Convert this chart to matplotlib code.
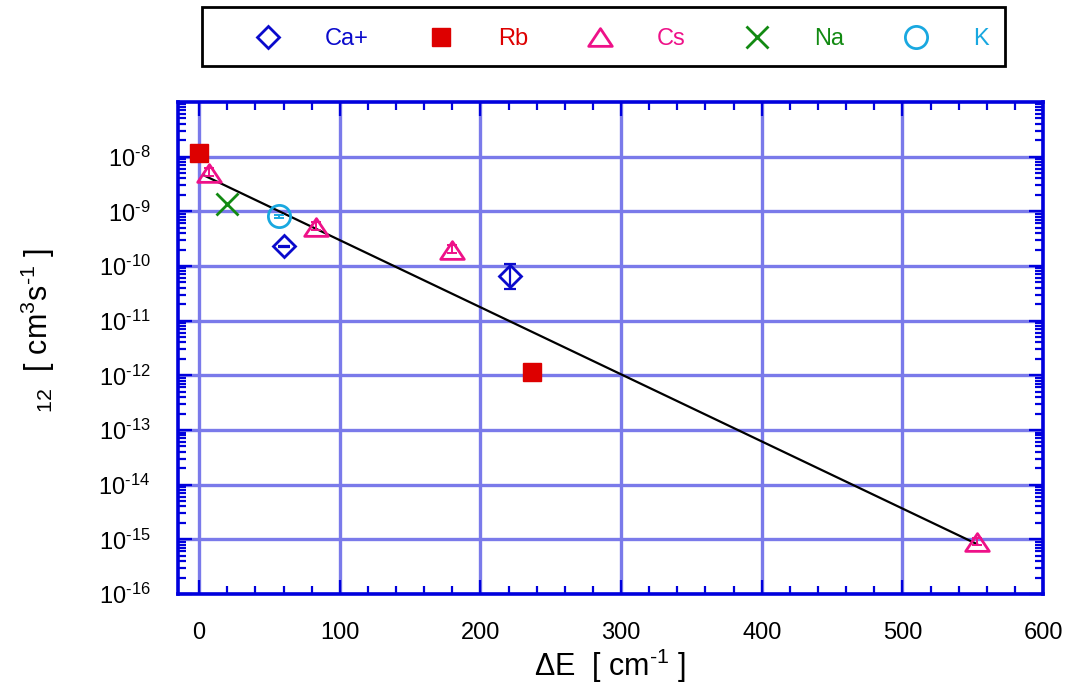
import numpy as np
import matplotlib
matplotlib.use('Agg')
from matplotlib import pyplot as plt
from matplotlib.path import Path
from matplotlib.patches import Rectangle
from matplotlib.ticker import LogLocator, MultipleLocator, NullFormatter, FuncFormatter

plt.rcParams['font.family'] = ['Liberation Sans', 'DejaVu Sans']
plt.rcParams['mathtext.fontset'] = 'custom'
plt.rcParams['mathtext.rm'] = 'Liberation Sans'
plt.rcParams['mathtext.it'] = 'Liberation Sans:italic'
plt.rcParams['mathtext.bf'] = 'Liberation Sans:bold'
plt.rcParams['axes.unicode_minus'] = False

# Data (x = Delta E in cm^-1, y = rate in cm^3 s^-1)
ca_x = [60, 221]
ca_y = [2.3e-10, 6.5e-11]
ca_lo = [0.05e-10, 2.7e-11]
ca_hi = [0.05e-10, 4.4e-11]

rb_x = [0, 237]
rb_y = [1.17e-8, 1.17e-12]

cs_x = [7, 83, 180, 553]
cs_y = [5.1e-9, 5.1e-10, 2.0e-10, 8.8e-16]
cs_lo = [0.6e-9, 0.6e-10, 0.24e-10, 1.0e-16]
cs_hi = [1.2e-9, 1.2e-10, 0.46e-10, 2.0e-16]

na_x = [20]
na_y = [1.34e-9]

k_x = [57]
k_y = [8.3e-10]
k_lo = [0.6e-10]
k_hi = [0.3e-10]

fit_x = [3, 553]
fit_y = [4.6e-9, 8.2e-16]

species = ['Ca+', 'Rb', 'Cs', 'Na', 'K']
colors = ['#0a0acc', '#dd0000', '#ee1188', '#128a12', '#19a8e0']

# wide triangle like the original
tri = Path([(-1, -0.75), (1, -0.75), (0, 0.75), (-1, -0.75)], closed=True)


def dec_label(v, pos):
    e = int(np.round(np.log10(v)))
    if e < 0:
        return r'10$^{\text{-}%d}$' % (-e)
    return r'10$^{%d}$' % e


fig = plt.figure(figsize=(10.7, 6.9), dpi=100)
ax = fig.add_axes([0.1664, 0.1391, 0.8084, 0.7131])

ax.set_yscale('log')
ax.set_xlim(-15, 600)
ax.set_ylim(1e-16, 1e-7)

# grid
ax.grid(True, which='major', color='#7a7aea', lw=2.4, zorder=0)
ax.set_axisbelow(True)

# fit line
ax.plot(fit_x, fit_y, color='black', lw=1.6, zorder=3)

# error bars
ax.errorbar(ca_x, ca_y, yerr=[ca_lo, ca_hi], fmt='none', ecolor=colors[0], elinewidth=1.6, capsize=4.5, capthick=1.6, zorder=4)
ax.errorbar(cs_x, cs_y, yerr=[cs_lo, cs_hi], fmt='none', ecolor=colors[2], elinewidth=1.4, capsize=3.5, capthick=1.4, zorder=4)
ax.errorbar(k_x, k_y, yerr=[k_lo, k_hi], fmt='none', ecolor=colors[4], elinewidth=1.4, capsize=3.5, capthick=1.4, zorder=4)

# markers
h_ca, = ax.plot(ca_x, ca_y, ls='none', marker='D', ms=11.5, mfc='none', mec=colors[0], mew=2, label=species[0], zorder=5)
h_rb, = ax.plot(rb_x, rb_y, ls='none', marker='s', ms=13, mfc=colors[1], mec=colors[1], mew=1, label=species[1], zorder=5)
h_cs, = ax.plot(cs_x, cs_y, ls='none', marker=tri, ms=17, mfc='none', mec=colors[2], mew=2, label=species[2], zorder=5)
h_na, = ax.plot(na_x, na_y, ls='none', marker='x', ms=16, mec=colors[3], mew=2, label=species[3], zorder=5)
h_k, = ax.plot(k_x, k_y, ls='none', marker='o', ms=16, mfc='none', mec=colors[4], mew=2, label=species[4], zorder=5)

# axes styling
for sp in ax.spines.values():
    sp.set_color('#0000dd')
    sp.set_linewidth(2.6)

ax.xaxis.set_major_locator(MultipleLocator(100))
ax.xaxis.set_minor_locator(MultipleLocator(20))
ax.set_yticks([10.0**e for e in range(-16, -7)])
ax.yaxis.set_major_formatter(FuncFormatter(dec_label))
ax.yaxis.set_minor_locator(LogLocator(base=10, subs=np.arange(2, 10), numticks=20))
ax.yaxis.set_minor_formatter(NullFormatter())

ax.tick_params(which='both', direction='in', top=True, right=True, color='#0000dd',
               labelsize=17, pad=20)
ax.tick_params(which='major', length=10, width=1.6)
ax.tick_params(which='minor', length=6, width=1.6)

ax.set_xlabel(r'ΔE  [ cm$^{\text{-}1}$ ]', fontsize=22, labelpad=2)
fig.text(38 / 1070, 1 - 331 / 690, r'$_{12}$  [ cm$^{3}$s$^{\text{-}1}$ ]', fontsize=22,
         rotation=90, ha='center', va='center')

# legend on top with its own box
leg = fig.legend([h_ca, h_rb, h_cs, h_na, h_k], species, loc='center left',
                 bbox_to_anchor=(0.2284, 1 - 39 / 690), ncol=5, frameon=False,
                 fontsize=17, handlelength=2, handletextpad=1.41, columnspacing=2.05,
                 borderpad=0, borderaxespad=0, numpoints=1)
for txt, c in zip(leg.get_texts(), colors):
    txt.set_color(c)

fig.patches.append(Rectangle((202 / 1070, 1 - 66 / 690), (1005 - 202) / 1070, 59 / 690,
                             transform=fig.transFigure, fill=False, edgecolor='black', lw=2))

fig.savefig('out.png', dpi=100)
